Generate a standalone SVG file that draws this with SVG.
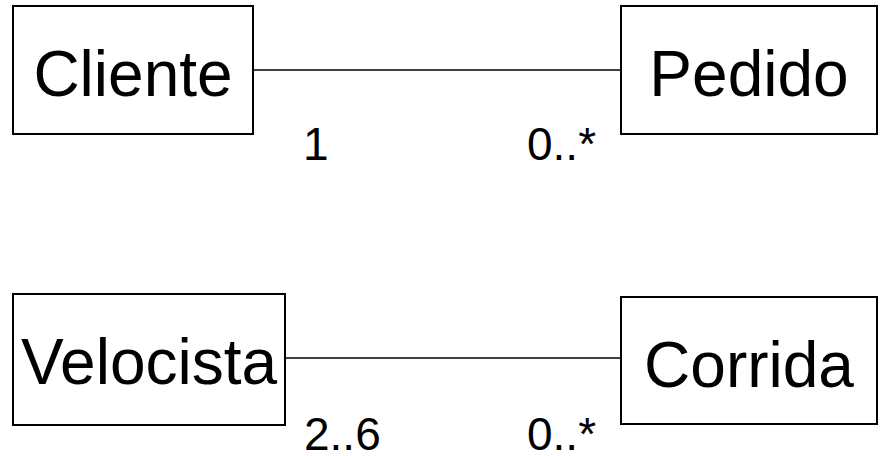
<svg xmlns="http://www.w3.org/2000/svg" width="883" height="456" viewBox="0 0 883 456">
<style>
.box{fill:#fff;stroke:#000;stroke-width:2}
.name{font-family:"Liberation Sans",Arial,sans-serif;font-size:64px;fill:#000;text-anchor:middle}
.mult{font-family:"Liberation Sans",Arial,sans-serif;font-size:46px;fill:#000}
.assoc{stroke:#000;stroke-width:1.6;fill:none}
</style>
<rect width="883" height="456" fill="#fff"/>
<g id="connectors">
<line class="assoc" x1="253" y1="70" x2="621" y2="70"/>
<line class="assoc" x1="285" y1="358" x2="621" y2="358"/>
<text class="mult" x="303" y="160">1</text>
<text class="mult" x="527" y="160">0..*</text>
<text class="mult" x="304" y="450">2..6</text>
<text class="mult" x="527" y="450">0..*</text>
</g>
<g id="cliente">
<rect class="box" x="13" y="6" width="240" height="128"/>
<text class="name" x="133" y="96">Cliente</text>
</g>
<g id="pedido">
<rect class="box" x="621" y="6" width="256" height="128"/>
<text class="name" x="749" y="96">Pedido</text>
</g>
<g id="velocista">
<rect class="box" x="13" y="294" width="272" height="131"/>
<text class="name" x="149" y="384">Velocista</text>
</g>
<g id="corrida">
<rect class="box" x="621" y="297" width="256" height="127"/>
<text class="name" x="749" y="387">Corrida</text>
</g>
</svg>
